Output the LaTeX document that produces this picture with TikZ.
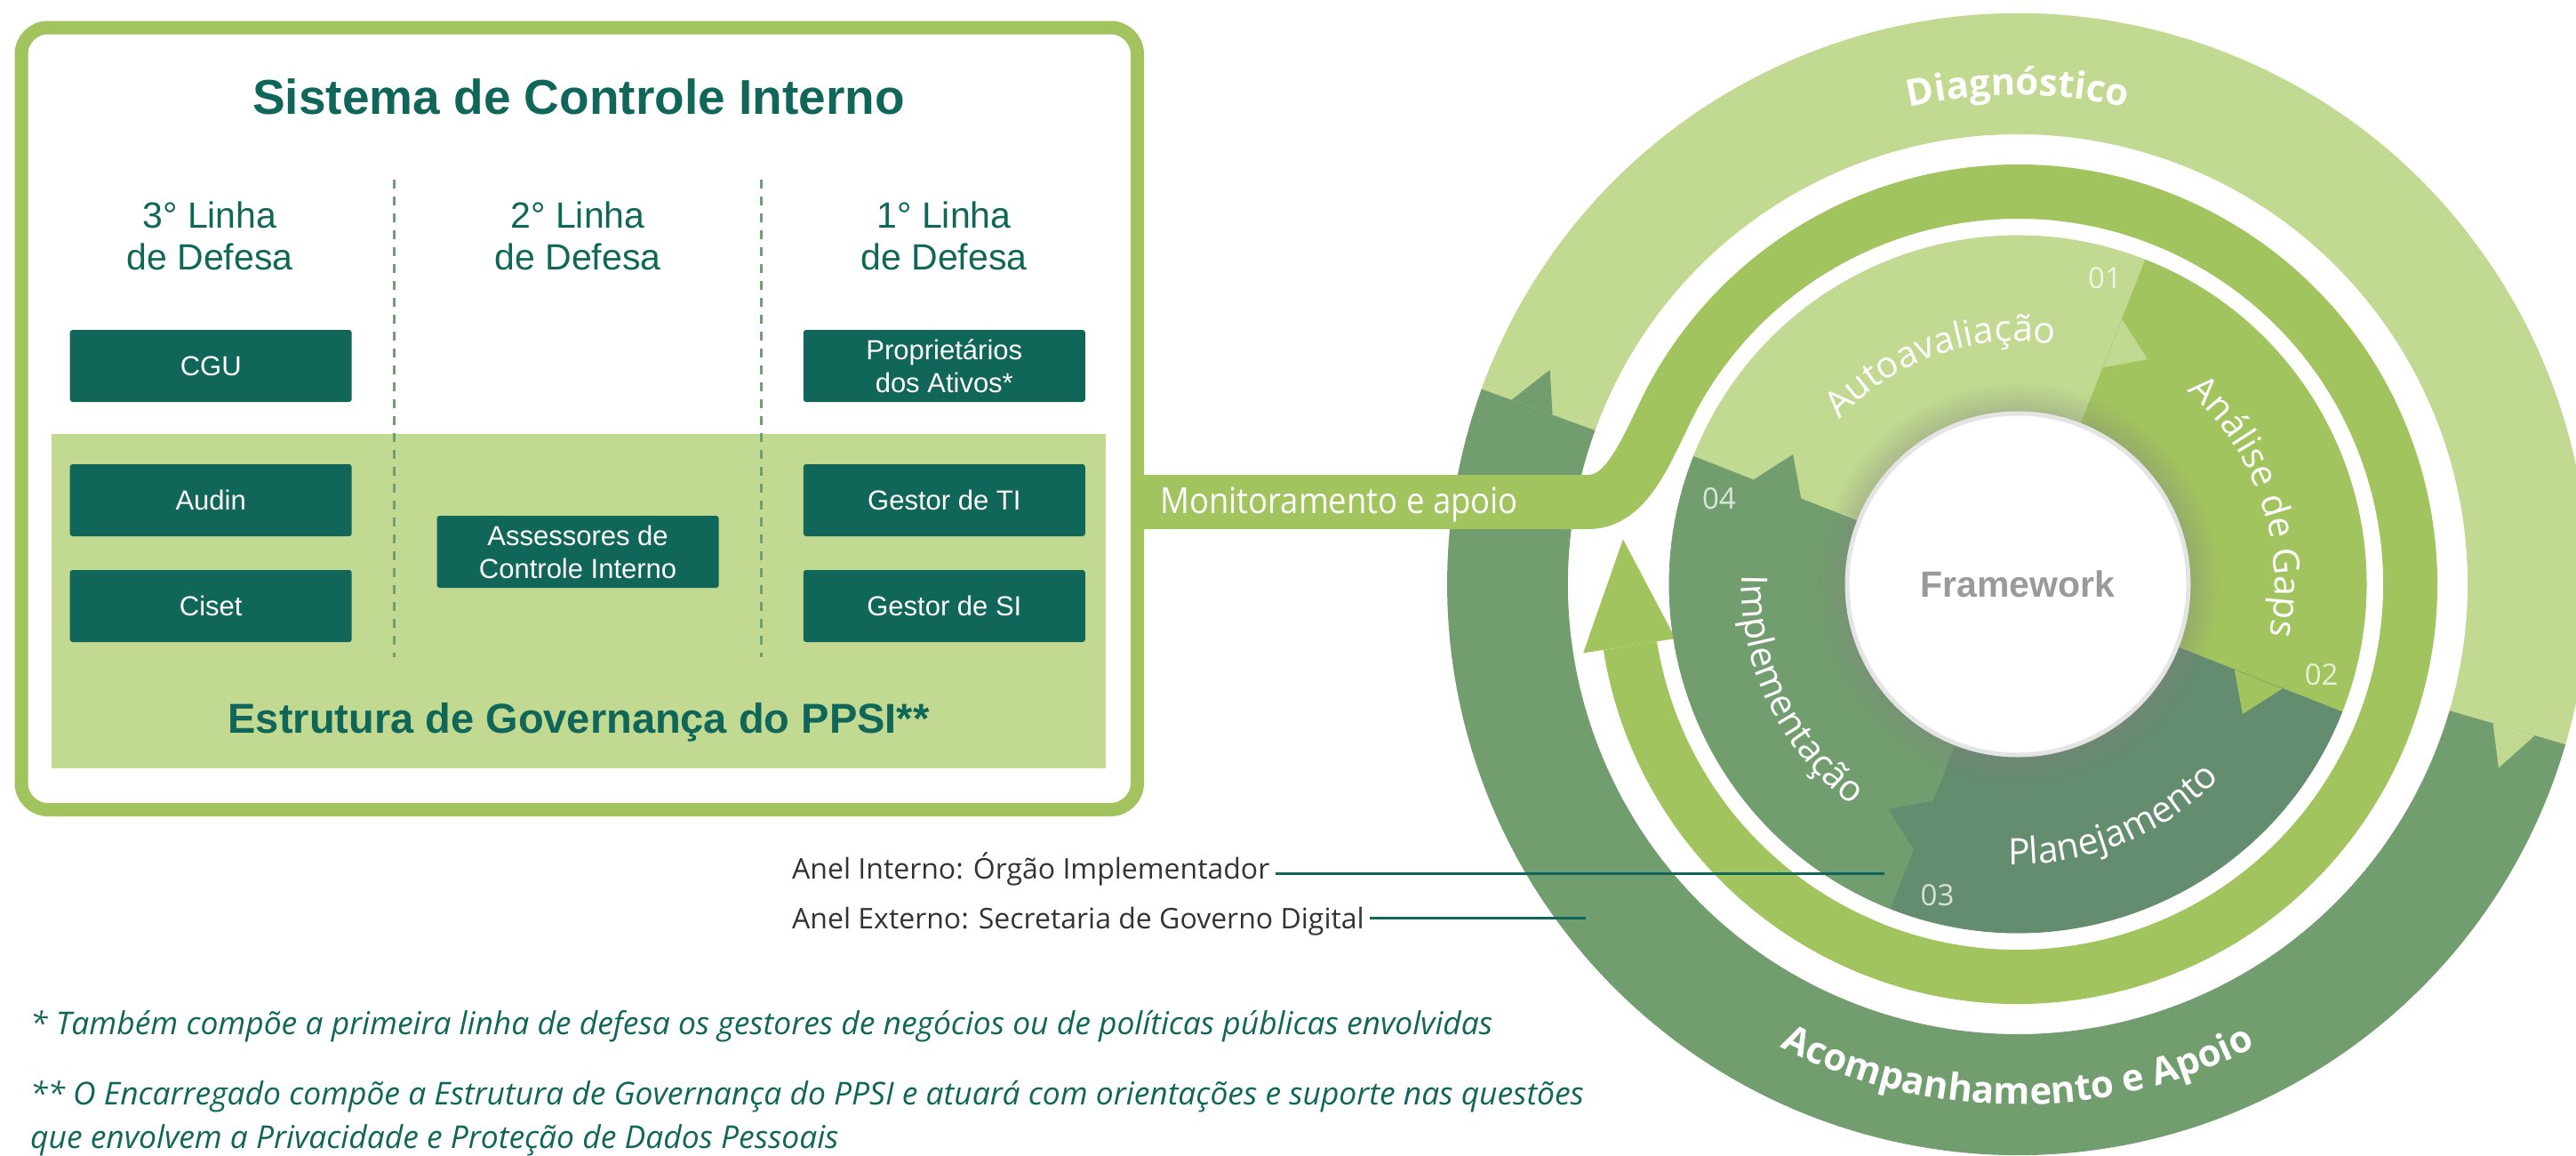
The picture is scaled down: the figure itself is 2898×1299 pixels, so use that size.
\documentclass[tikz,border=0pt]{standalone}
\usepackage{fontspec}
\setmainfont{Open Sans}
\newfontfamily\robo{Liberation Sans}
\newfontfamily\condensed[FakeStretch=0.9]{Open Sans}
\usetikzlibrary{decorations.text,shadows}

\definecolor{govteal}{HTML}{106658}
\definecolor{leafpale}{HTML}{C1D990}
\definecolor{leafbright}{HTML}{A2C45E}
\definecolor{leafdark}{HTML}{729E6F}
\definecolor{leafdeep}{HTML}{648C6E}
\definecolor{framegrey}{HTML}{E4E4E4}
\definecolor{fwtext}{HTML}{9A9A9A}
\definecolor{dashgreen}{HTML}{6F9D74}
\definecolor{labelgrey}{HTML}{333333}

\tikzset{
	panelframe/.style={draw=leafbright, line width=15pt, rounded corners=30pt},
	divider/.style={dashgreen, line width=3pt, dash pattern=on 10pt off 9pt},
	paneltitle/.style={text=govteal, font=\robo\bfseries\fontsize{55}{60}\selectfont},
	header/.style={text=govteal, align=center, font=\robo\fontsize{41}{47}\selectfont},
	unit/.style={fill=govteal, text=white, rounded corners=3pt, minimum width=317pt,
		minimum height=81pt, align=center, inner sep=0pt, font=\robo\fontsize{31}{37}\selectfont},
	govtext/.style={text=govteal, font=\robo\bfseries\fontsize{47}{50}\selectfont},
	stepnum/.style={text=white, opacity=0.75, font=\fontsize{33}{33}\selectfont},
	anel/.style={text=labelgrey, inner sep=0pt, font=\fontsize{32}{36}\selectfont},
	leader/.style={draw=govteal, line width=3pt},
	footnote/.style={text=govteal, inner sep=0pt, font=\itshape\fontsize{35.4}{38}\selectfont},
	fwdisc/.style={circle, fill=white, draw=framegrey, line width=5pt, minimum size=384pt,
		text=fwtext, font=\robo\bfseries\fontsize{41}{41}\selectfont,
		circular drop shadow={shadow xshift=0pt, shadow yshift=0pt, shadow scale=1.18, opacity=0.35}},
	ringlabel/.style={decorate, decoration={text along path, text align=center, text color=white,
		text={|\bfseries\fontsize{42}{42}\selectfont|#1}}},
	phaselabel/.style={decorate, decoration={text along path, text align=center, text color=white,
		text={|\fontsize{41}{41}\selectfont|#1}}}
}

\begin{document}
\begin{tikzpicture}[x=1pt, y=1pt]
	\useasboundingbox (0,0) rectangle (2898,-1299);

	% Sistema de Controle Interno
	\draw[panelframe] (24,-31) rectangle (1279.5,-910.5);
	\fill[leafpale] (58,-488) rectangle (1244,-864);
	\draw[divider] (443.6,-202) -- (443.6,-739);
	\draw[divider] (856.5,-202) -- (856.5,-739);
	\node[paneltitle, anchor=base] (title) at (651,-128) {Sistema de Controle Interno};
	\node[header] (third) at (236,-265) {3° Linha\\de Defesa};
	\node[header] (second) at (650,-265) {2° Linha\\de Defesa};
	\node[header] (first) at (1062,-265) {1° Linha\\de Defesa};
	\node[unit] (cgu) at (237.2,-411.5) {CGU};
	\node[unit] (audin) at (237.2,-562.5) {Audin};
	\node[unit] (ciset) at (237.2,-681.5) {Ciset};
	\node[unit] (assessores) at (650.1,-620.5) {Assessores de\\Controle Interno};
	\node[unit] (proprietarios) at (1062.3,-411.5) {Proprietários\\dos Ativos*};
	\node[unit] (gestorti) at (1062.3,-562.5) {Gestor de TI};
	\node[unit] (gestorsi) at (1062.3,-681.5) {Gestor de SI};
	\node[govtext, anchor=base] (estrutura) at (651,-824.5) {Estrutura de Governança do PPSI**};

	\begin{scope}[shift={(2270,-657)}]
		% anel externo
		\fill[leafpale] (160:642) arc[start angle=160, end angle=-16.3, radius=642]
			-- (-16.3:506) arc[start angle=-16.3, end angle=160, radius=506] -- cycle;
		\fill[leafdark] (-16.3:642) arc[start angle=-16.3, end angle=-200, radius=642]
			-- (-200:506) arc[start angle=-200, end angle=-16.3, radius=506] -- cycle;
		\fill[leafpale] (-16.3:606) -- (-20.9:579) -- (-16.3:557) -- cycle;
		\fill[leafdark] (160:606) -- (155.4:579) -- (160:557) -- cycle;

		% monitoramento
		\draw[leafbright, line width=61pt] (-990.5,92.5) -- (-483,92.5)
			.. controls (-433,92.5) and (-412.4,168.8) .. (150:441.5)
			arc[start angle=150, end angle=-171, radius=441.5];
		\fill[leafbright] (-171:495) -- (173.5:447) -- (-171:390) -- cycle;

		% anel interno
		\filldraw[leafpale, line width=0.8pt] (158.5:392) arc[start angle=158.5, end angle=68.5, radius=392]
			-- (68.5:180) arc[start angle=68.5, end angle=158.5, radius=180] -- cycle;
		\filldraw[leafbright, line width=0.8pt] (68.5:392) arc[start angle=68.5, end angle=-21.5, radius=392]
			-- (-21.5:180) arc[start angle=-21.5, end angle=68.5, radius=180] -- cycle;
		\filldraw[leafdeep, line width=0.8pt] (-21.5:392) arc[start angle=-21.5, end angle=-111.5, radius=392]
			-- (-111.5:180) arc[start angle=-111.5, end angle=-21.5, radius=180] -- cycle;
		\filldraw[leafdark, line width=0.8pt] (-111.5:392) arc[start angle=-111.5, end angle=-201.5, radius=392]
			-- (-201.5:180) arc[start angle=-201.5, end angle=-111.5, radius=180] -- cycle;
		\fill[leafpale] (68.5:320) -- (60:292) -- (68.5:262) -- cycle;
		\fill[leafbright] (-21.5:320) -- (-30:292) -- (-21.5:262) -- cycle;
		\fill[leafdeep] (-111.5:320) -- (-120:292) -- (-111.5:262) -- cycle;
		\fill[leafdark] (158.5:320) -- (150:292) -- (158.5:262) -- cycle;

		% textos dos aneis
		\path[ringlabel=Diagnóstico] (130:550) arc[start angle=130, end angle=50, radius=550];
		\path[ringlabel=Acompanhamento e Apoio] (-160:585) arc[start angle=-160, end angle=-20, radius=585];
		\path[phaselabel=Autoavaliação] (169.3:273) arc[start angle=169.3, end angle=49.3, radius=273];
		\path[phaselabel=Análise de Gaps] (78.6:289) arc[start angle=78.6, end angle=-41.4, radius=289];
		\path[phaselabel=Planejamento] (-127.9:315) arc[start angle=-127.9, end angle=-7.9, radius=315];
		\path[phaselabel=Implementação] (145.6:311) arc[start angle=145.6, end angle=265.6, radius=311];
	\end{scope}

	\node[fwdisc] (fw) at (2270,-657) {Framework};
	\node[stepnum] (n01) at (2368,-313) {01};
	\node[stepnum] (n02) at (2611.6,-759) {02};
	\node[stepnum] (n03) at (2179.5,-1007) {03};
	\node[stepnum] (n04) at (1934,-561) {04};
	\node[text=white, inner sep=0pt, anchor=base west, font=\condensed\fontsize{40.5}{40.5}\selectfont]
		(monitor) at (1305,-577.3) {Monitoramento e apoio};

	% legendas
	\node[anel, anchor=base west] (anelint) at (891,-988.3) {Anel Interno: Órgão Implementador};
	\node[anel, anchor=base west] (anelext) at (891,-1044) {Anel Externo: Secretaria de Governo Digital};
	\coordinate (intend) at (2120,-982.7);
	\coordinate (extend) at (1784,-1032.7);
	\draw[leader] ([xshift=6pt]anelint.east |- intend) -- (intend);
	\draw[leader] ([xshift=6pt]anelext.east |- extend) -- (extend);

	\node[footnote, anchor=base west] (note1) at (34,-1163)
		{* Também compõe a primeira linha de defesa os gestores de negócios ou de políticas públicas envolvidas};
	\node[footnote, anchor=base west] (note2) at (34,-1242.7)
		{** O Encarregado compõe a Estrutura de Governança do PPSI e atuará com orientações e suporte nas questões};
	\node[footnote, anchor=base west] (note3) at (34,-1291.7)
		{que envolvem a Privacidade e Proteção de Dados Pessoais};
\end{tikzpicture}
\end{document}
